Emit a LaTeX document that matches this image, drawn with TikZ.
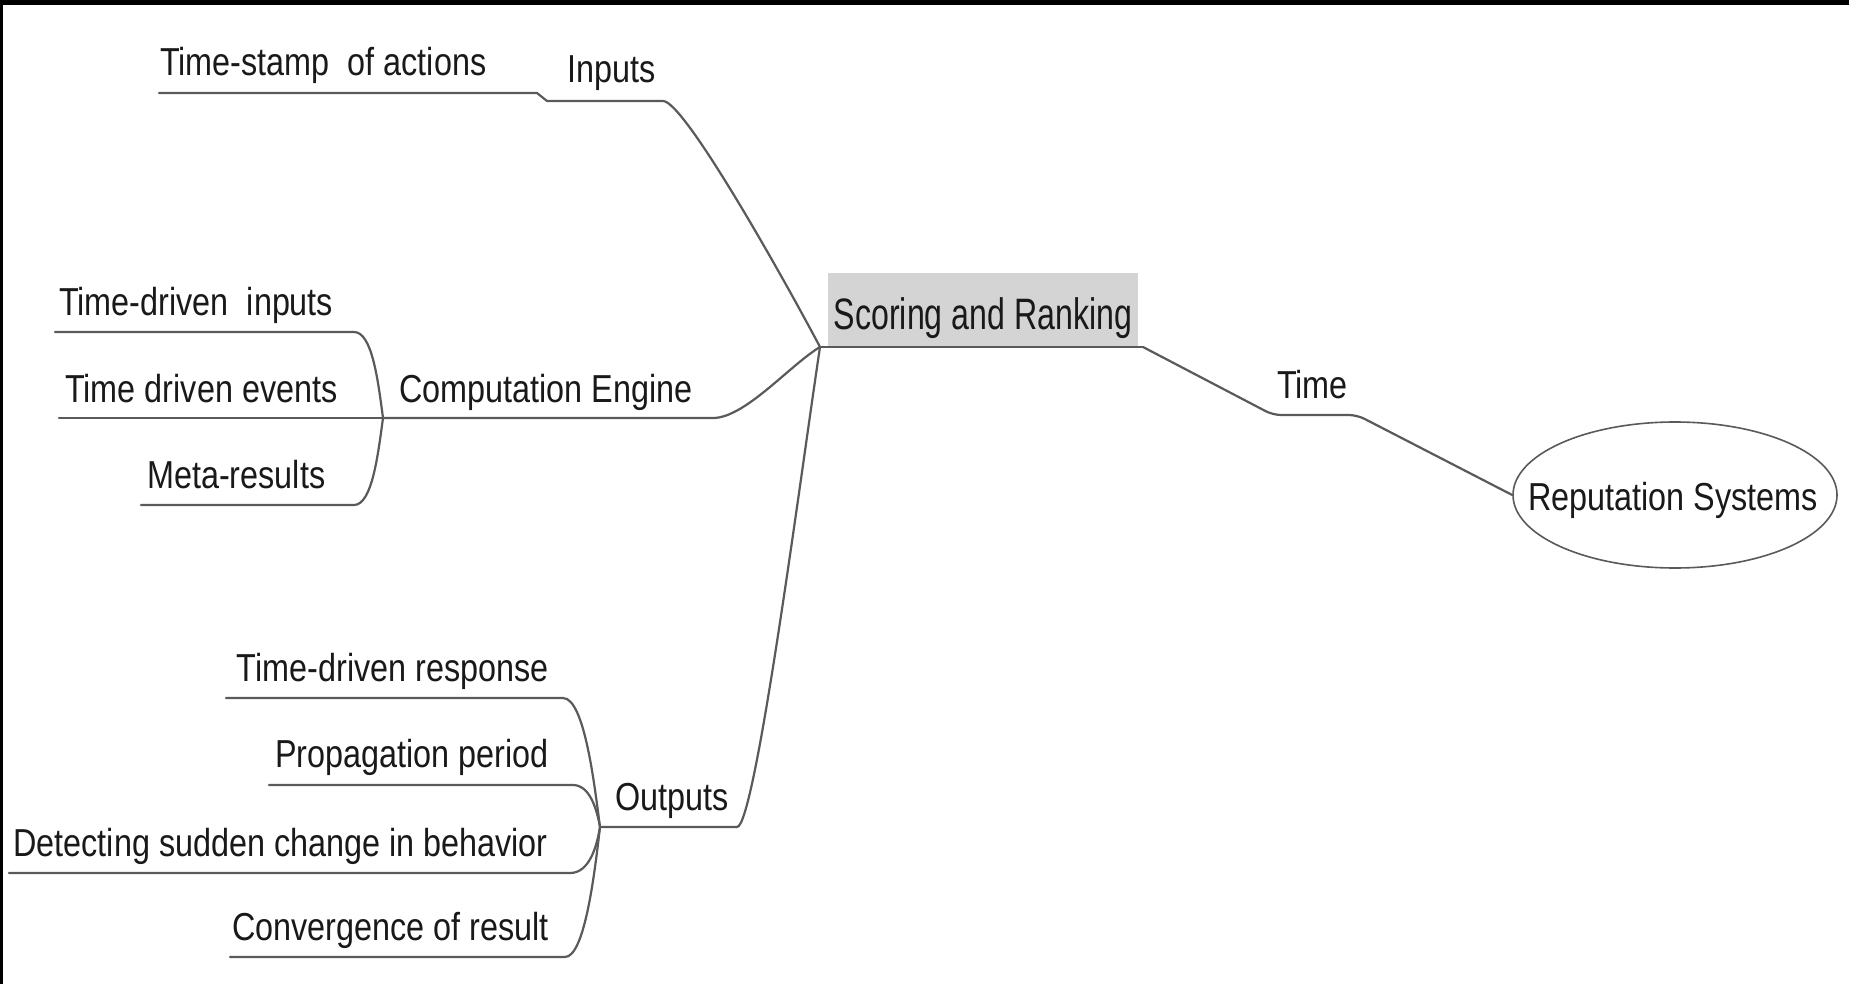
\documentclass[tikz,border=0pt]{standalone}
\usepackage{fontspec}
\setmainfont{Liberation Sans}
\newfontfamily\branchfont{Liberation Sans}[FakeStretch=0.83]
\newfontfamily\rootfont{Liberation Sans}[FakeStretch=0.73]
\usetikzlibrary{shapes.geometric}
\definecolor{linkgray}{RGB}{90,90,90}
\definecolor{boxgray}{RGB}{212,212,212}
\definecolor{inkblack}{RGB}{25,25,25}
\begin{document}
\begin{tikzpicture}[x=1pt,y=-1pt,
  leaf/.style={inner sep=0pt, text=inkblack, font=\branchfont\fontsize{39}{44}\selectfont},
  rootbox/.style={fill=boxgray, inner sep=0pt, text=inkblack, minimum width=310pt,
    text height=56pt, text depth=18pt, font=\rootfont\fontsize{44}{50}\selectfont},
  hubnode/.style={draw=linkgray, line width=1.6pt, ellipse, inner sep=0pt,
    minimum width=324pt, minimum height=146pt},
  link/.style={draw=linkgray, line width=2.2pt, line cap=round, line join=round},
]
\useasboundingbox (0,0) rectangle (1849,984);
\fill[white] (0,0) rectangle (1849,984);
\fill[black] (0,0) rectangle (1849,5);
\fill[black] (0,0) rectangle (3,984);

% central topic
\node[rootbox, anchor=base] (root) at (983,329) {Scoring and Ranking};
\coordinate (hub) at (820,347);
\coordinate (rootEnd) at (1143,347);
\draw[link] (hub) -- (rootEnd);

% Time -> Reputation Systems
\node[leaf, anchor=base west] (time) at (1277,398) {Time};
\coordinate (timeIn) at (1273,415);
\coordinate (timeOut) at (1357,415);
\node[hubnode] (rep) at (1675,495) {};
\node[leaf, anchor=base] (reptext) at (1673,510) {Reputation Systems};
\draw[link, rounded corners=8pt] (rootEnd) -- (timeIn) -- (timeOut) -- (rep.west);

% Inputs
\node[leaf, anchor=base west] (inputs) at (567,83) {Inputs};
\coordinate (inA) at (547,101);
\coordinate (inB) at (663,101);
\draw[link] (hub) .. controls (790,290) and (685,101) .. (inB) -- (inA);
\node[leaf, anchor=base west] (stamp) at (160,76) {Time-stamp\ \ of actions};
\coordinate (stA) at (159,93);
\coordinate (stB) at (537,93);
\draw[link] (inA) -- (stB) -- (stA);

% Computation Engine
\node[leaf, anchor=base west] (engine) at (399,402) {Computation Engine};
\coordinate (engHub) at (383,418);
\coordinate (engEnd) at (713,418);
\draw[link] (hub) .. controls (790,365) and (745,418) .. (engEnd) -- (engHub);

\node[leaf, anchor=base west] (tdin) at (59,315) {Time-driven\ \ inputs};
\coordinate (tdinA) at (55,332);
\coordinate (tdinB) at (354,332);
\draw[link] (engHub) .. controls (378,380) and (372,332) .. (tdinB) -- (tdinA);

\node[leaf, anchor=base west] (tdev) at (65,402) {Time driven events};
\coordinate (tdevA) at (59,418);
\draw[link] (engHub) -- (tdevA);

\node[leaf, anchor=base west] (meta) at (147,488) {Meta-results};
\coordinate (metaA) at (141,505);
\coordinate (metaB) at (354,505);
\draw[link] (engHub) .. controls (378,455) and (372,505) .. (metaB) -- (metaA);

% Outputs
\node[leaf, anchor=base west] (outputs) at (615,810) {Outputs};
\coordinate (outHub) at (600,827);
\coordinate (outEnd) at (737,827);
\draw[link] (hub) .. controls (800,480) and (755,827) .. (outEnd) -- (outHub);

\node[leaf, anchor=base east] (resp) at (549,681) {Time-driven response};
\coordinate (respA) at (226,698);
\coordinate (respB) at (563,698);
\draw[link] (outHub) .. controls (595,790) and (585,698) .. (respB) -- (respA);

\node[leaf, anchor=base east] (prop) at (549,767) {Propagation period};
\coordinate (propA) at (269,785);
\coordinate (propB) at (573,785);
\draw[link] (outHub) .. controls (597,810) and (590,785) .. (propB) -- (propA);

\node[leaf, anchor=base east] (detect) at (548,856) {Detecting sudden change in behavior};
\coordinate (detA) at (9,873);
\coordinate (detB) at (570,873);
\draw[link] (outHub) .. controls (597,845) and (590,873) .. (detB) -- (detA);

\node[leaf, anchor=base east] (conv) at (549,940) {Convergence of result};
\coordinate (convA) at (230,957);
\coordinate (convB) at (565,957);
\draw[link] (outHub) .. controls (595,870) and (585,957) .. (convB) -- (convA);
\end{tikzpicture}
\end{document}
